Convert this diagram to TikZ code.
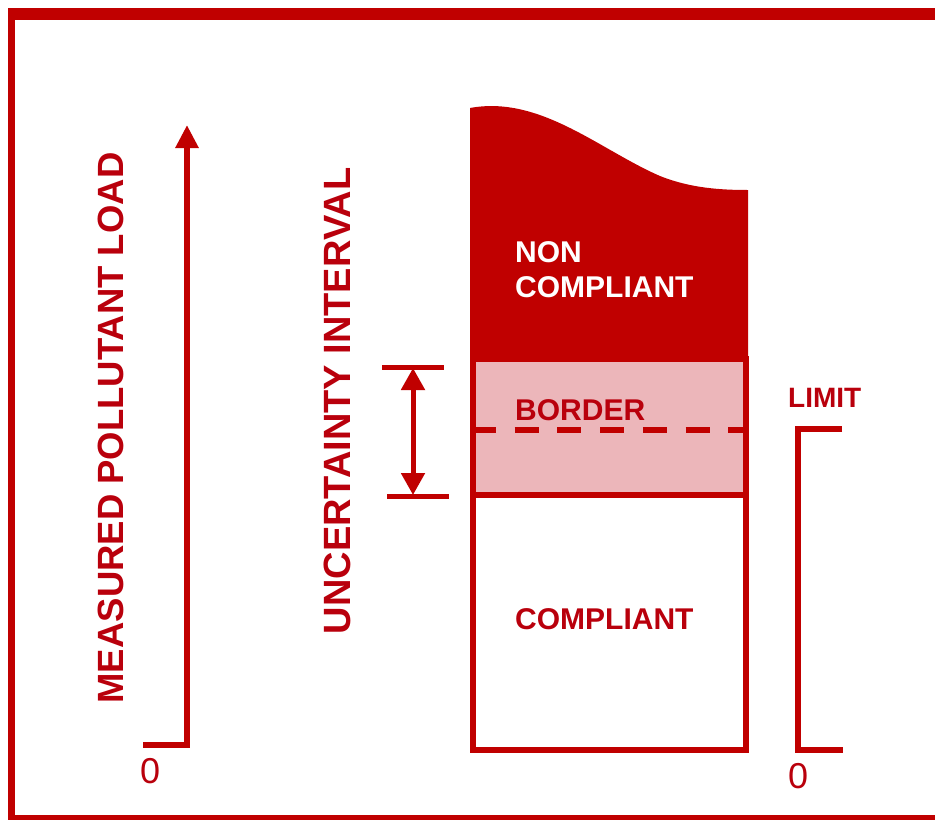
\documentclass[tikz,border=0pt]{standalone}
\usepackage{fontspec}
\setmainfont{Liberation Sans}
\usetikzlibrary{arrows.meta}
\definecolor{cred}{RGB}{192,0,0}
\definecolor{ctext}{RGB}{185,0,12}
\definecolor{cpink}{RGB}{236,182,186}
\begin{document}
\begin{tikzpicture}[x=1pt,y=-1pt,
  redline/.style={draw=cred,line width=6pt},
  bigrot/.style={inner sep=0pt,anchor=base,rotate=90,text=ctext,font=\fontsize{36.5}{40}\selectfont\bfseries},
  lbl/.style={inner sep=0pt,anchor=base west,text=ctext,font=\fontsize{30}{35}\selectfont\bfseries},
  zero/.style={inner sep=0pt,anchor=base west,text=ctext,font=\fontsize{36}{40}\selectfont}]
\useasboundingbox (0,0) rectangle (935,820);
% frame
\fill[cred] (8,8) rectangle (935,20);
\fill[cred] (8,8) rectangle (15,820);
\fill[cred] (8,815) rectangle (935,820);
% vertical axis
\coordinate (ax0) at (143,745);
\coordinate (axc) at (187,745);
\coordinate (axt) at (187,125);
\draw[redline,line join=miter,-{Triangle[width=22pt,length=23pt]}] (ax0) -- (axc) -- (axt);
\node[zero] (z1) at (140,783) {0};
\node[bigrot] (mpl) at (123,428) {MEASURED POLLUTANT LOAD};
\node[bigrot,font=\fontsize{38}{42}\selectfont\bfseries] (ui) at (350,401) {UNCERTAINTY INTERVAL};
% uncertainty interval
\coordinate (ut1) at (382,367); \coordinate (ut2) at (444,367);
\coordinate (ub1) at (387,496); \coordinate (ub2) at (449,496);
\coordinate (ua1) at (413,368); \coordinate (ua2) at (413,495);
\draw[draw=cred,line width=5pt] (ut1) -- (ut2);
\draw[draw=cred,line width=5pt] (ub1) -- (ub2);
\draw[draw=cred,line width=5pt,{Triangle[width=23pt,length=22pt]}-{Triangle[width=23pt,length=22pt]}] (ua1) -- (ua2);
% non compliant region
\fill[cred] (470,359) -- (470,108) .. controls (540,95) and (600,150) .. (660,176)
  .. controls (690,188) and (720,190) .. (748,190) -- (748,359) -- cycle;
\node[lbl,text=white] (nc1) at (515,262) {NON};
\node[lbl,text=white] (nc2) at (515,297) {COMPLIANT};
% border region
\coordinate (b1) at (472.5,359); \coordinate (b2) at (745.5,495);
\fill[cpink] (b1) rectangle (b2);
\draw[redline] (b1) rectangle (b2);
\coordinate (d1) at (475,430); \coordinate (d2) at (745,430);
\draw[draw=cred,line width=6pt,dash pattern=on 24pt off 18.7pt,dash phase=3pt] (d1) -- (d2);
\node[lbl] (bord) at (515,420) {BORDER};
% compliant region
\coordinate (c1) at (472.5,495); \coordinate (c2) at (745.5,750);
\draw[redline] (c1) rectangle (c2);
\node[lbl] (comp) at (515,629) {COMPLIANT};
% limit bracket
\coordinate (l1) at (842,429); \coordinate (l2) at (798,429);
\coordinate (l3) at (798,750); \coordinate (l4) at (843,750);
\draw[redline,line join=miter] (l1) -- (l2) -- (l3) -- (l4);
\node[lbl,font=\fontsize{28}{32}\selectfont\bfseries] (lim) at (788,407) {LIMIT};
\node[zero] (z2) at (788,788) {0};
\end{tikzpicture}
\end{document}
